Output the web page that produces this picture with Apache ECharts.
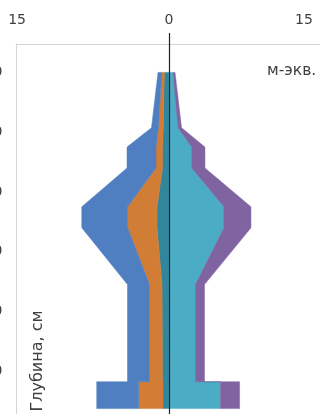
<!DOCTYPE html>
<html>
<head>
<meta charset="utf-8">
<script src="https://cdn.jsdelivr.net/npm/echarts@6/dist/echarts.min.js"></script>
<style>
  html, body { margin: 0; padding: 0; background: #fff; }
  #chart { width: 320px; height: 414px; }
</style>
</head>
<body>
<div id="chart"></div>
<script>
// Sampling depths, cm (a repeated depth is a boundary between horizons)
const depths = [0, 18.5, 25, 32, 45, 52, 71, 103.5, 103.5, 112.5];

// Cations, m-eq, drawn to the left of zero (innermost layer first)
const cationsInner  = [0.49, 0.60, 0.68, 0.68, 1.25, 1.25, 0.73, 0.68, 0.63, 0.63];
const cationsMiddle = [0.27, 0.50, 0.68, 0.68, 3.08, 3.08, 1.31, 1.36, 2.54, 2.54];
const cationsOuter  = [0.39, 0.73, 3.03, 3.03, 4.79, 4.79, 2.30, 2.30, 4.39, 4.39];

// Anions, m-eq, drawn to the right of zero (innermost layer first)
const anionsInner = [0.42, 0.94, 2.37, 2.37, 5.75, 5.75, 2.77, 2.77, 5.39, 5.39];
const anionsOuter = [0.21, 0.37, 1.39, 1.39, 2.82, 2.82, 0.94, 0.94, 1.99, 1.99];

// Axis labels
const xTickValues = [-15, 0, 15];
const depthTickValues = [0, 20, 40, 60, 80, 100];

const layerColors = ['#31859c', '#d27d36', '#4f7fc0', '#4bacc6', '#8064a2'];

// Stack layers outward from zero; each row is [innerEdge, outerEdge, depth]
function stackSide(layers, sign) {
  const base = depths.map(() => 0);
  return layers.map(vals => depths.map((d, i) => {
    const inner = base[i];
    base[i] += vals[i];
    return [sign * inner, sign * base[i], d];
  }));
}
const negLayers = stackSide([cationsInner, cationsMiddle, cationsOuter], -1);
const posLayers = stackSide([anionsInner, anionsOuter], 1);
const allLayers = negLayers.concat(posLayers);

// One filled polygon per layer, traced along the outer edge and back along the inner edge
function renderLayer(params, api) {
  if (params.dataIndexInside !== 0) return null;
  const n = params.dataInsideLength;
  const outer = [], inner = [];
  for (let i = 0; i < n; i++) {
    const d = api.value(2, i);
    inner.push(api.coord([api.value(0, i), d]));
    outer.push(api.coord([api.value(1, i), d]));
  }
  const color = api.visual('color');
  return {
    type: 'polygon',
    shape: { points: outer.concat(inner.reverse()) },
    style: { fill: color, stroke: color, lineWidth: 0.5 }
  };
}

const series = allLayers.map((rows, k) => ({
  type: 'custom',
  renderItem: renderLayer,
  data: rows,
  encode: { x: [0, 1], y: 2 },
  itemStyle: { color: layerColors[k] },
  silent: true,
  z: 2
}));

// Zero line
series.push({
  type: 'line',
  data: [],
  z: 5,
  markLine: {
    silent: true,
    symbol: 'none',
    label: { show: false },
    lineStyle: { color: '#222', width: 1.2, type: 'solid' },
    data: [{ xAxis: 0 }]
  }
});

const chart = echarts.init(document.getElementById('chart'), null, { renderer: 'canvas' });
chart.setOption({
  animation: false,
  backgroundColor: '#fff',
  grid: { left: 16, top: 44, width: 306, height: 387, containLabel: false, outerBoundsMode: 'none' },
  xAxis: {
    type: 'value',
    position: 'top',
    min: -16,
    max: 16,
    axisLine: { show: true, onZero: false, lineStyle: { color: '#d4d4d4', width: 1 } },
    axisTick: { show: true, customValues: [0], length: 11, lineStyle: { color: '#222', width: 1.2 } },
    splitLine: { show: false },
    axisLabel: {
      customValues: xTickValues,
      margin: 17,
      color: '#404040',
      fontFamily: 'DejaVu Sans',
      fontSize: 14,
      formatter: v => v === 0 ? '{z|0}' : '{s|' + Math.abs(v) + '}',
      rich: {
        z: { color: '#404040', fontFamily: 'DejaVu Sans', fontSize: 14 },
        s: { color: '#404040', fontFamily: 'DejaVu Sans', fontSize: 14, padding: [0, 17, 0, 0] }
      }
    }
  },
  yAxis: {
    type: 'value',
    inverse: true,
    min: -9.5,
    max: 120,
    axisLine: { show: true, onZero: false, lineStyle: { color: '#d4d4d4', width: 1 } },
    axisTick: { show: false },
    splitLine: { show: false },
    axisLabel: {
      customValues: depthTickValues,
      margin: 13.5,
      color: '#404040',
      fontFamily: 'DejaVu Sans',
      fontSize: 14
    }
  },
  graphic: [
    {
      type: 'text',
      left: 267,
      top: 63,
      style: { text: 'м-экв.', fill: '#404040', font: '15.5px "DejaVu Sans"' }
    },
    {
      type: 'text',
      x: 38,
      y: 361,
      rotation: Math.PI / 2,
      style: {
        text: 'Глубина, см',
        fill: '#404040',
        font: '16px "DejaVu Sans"',
        align: 'center',
        verticalAlign: 'middle'
      }
    }
  ],
  series: series
});
</script>
</body>
</html>
